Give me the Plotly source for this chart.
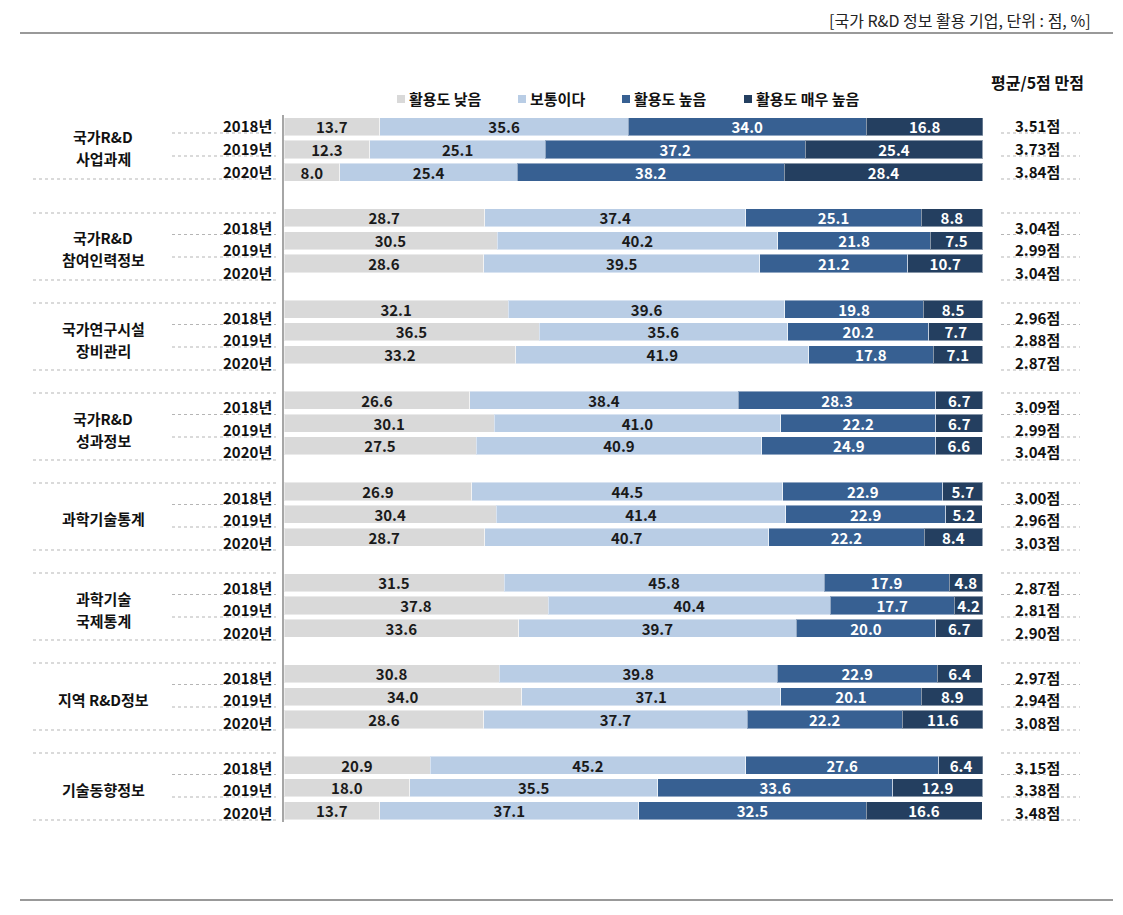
import plotly.graph_objects as go

# ---------------- data ----------------
groups = ["국가R&D<br>사업과제", "국가R&D<br>참여인력정보", "국가연구시설<br>장비관리",
          "국가R&D<br>성과정보", "과학기술통계", "과학기술<br>국제통계",
          "지역 R&D정보", "기술동향정보"]
years = ["2018년", "2019년", "2020년"]
series_names = ["활용도 낮음", "보통이다", "활용도 높음", "활용도 매우 높음"]

low = [13.7, 12.3, 8.0, 28.7, 30.5, 28.6, 32.1, 36.5, 33.2, 26.6, 30.1, 27.5,
       26.9, 30.4, 28.7, 31.5, 37.8, 33.6, 30.8, 34.0, 28.6, 20.9, 18.0, 13.7]
mid = [35.6, 25.1, 25.4, 37.4, 40.2, 39.5, 39.6, 35.6, 41.9, 38.4, 41.0, 40.9,
       44.5, 41.4, 40.7, 45.8, 40.4, 39.7, 39.8, 37.1, 37.7, 45.2, 35.5, 37.1]
high = [34.0, 37.2, 38.2, 25.1, 21.8, 21.2, 19.8, 20.2, 17.8, 28.3, 22.2, 24.9,
        22.9, 22.9, 22.2, 17.9, 17.7, 20.0, 22.9, 20.1, 22.2, 27.6, 33.6, 32.5]
vhigh = [16.8, 25.4, 28.4, 8.8, 7.5, 10.7, 8.5, 7.7, 7.1, 6.7, 6.7, 6.6,
         5.7, 5.2, 8.4, 4.8, 4.2, 6.7, 6.4, 8.9, 11.6, 6.4, 12.9, 16.6]
scores = [3.51, 3.73, 3.84, 3.04, 2.99, 3.04, 2.96, 2.88, 2.87, 3.09, 2.99, 3.04,
          3.00, 2.96, 3.03, 2.87, 2.81, 2.90, 2.97, 2.94, 3.08, 3.15, 3.38, 3.48]

colors = ["#d9d9d9", "#b9cde5", "#376092", "#243f60"]
text_colors = ["#1a1a1a", "#1a1a1a", "#ffffff", "#ffffff"]

# ---------------- layout helpers ----------------
OFF = 8  # page body margin
W, H = 1123 - OFF, 915 - OFF
FONT = "Noto Sans CJK KR"


def X(px):
    return (px - OFF) / W


def Y(py):
    return 1 - (py - OFF) / H


# slot positions: each group uses 4 slots (3 bars + gap)
slots = [4 * g + j for g in range(len(groups)) for j in range(len(years))]

fig = go.Figure()
for name, vals, col, tcol in zip(series_names, [low, mid, high, vhigh], colors, text_colors):
    fig.add_trace(go.Bar(
        y=slots, x=vals, orientation="h", name=name, width=0.79,
        marker=dict(color=col, line=dict(color="rgba(255,255,255,0.45)", width=1)),
        texttemplate="%{x:.1f}", textposition="inside", insidetextanchor="middle",
        textangle=0, textfont=dict(family=FONT, size=15, color=tcol, weight="bold"),
        showlegend=False,
    ))

annotations = []
shapes = []

# header
annotations.append(dict(text="[국가 R&D 정보 활용 기업, 단위 : 점, %]", x=X(1093), y=Y(20),
                        xref="paper", yref="paper", xanchor="right", yanchor="middle",
                        showarrow=False, font=dict(family=FONT, size=16, color="#222")))
shapes.append(dict(type="line", xref="paper", yref="paper", x0=X(20), x1=X(1113),
                   y0=Y(33), y1=Y(33), line=dict(color="#999999", width=2)))
shapes.append(dict(type="line", xref="paper", yref="paper", x0=X(20), x1=X(1113),
                   y0=Y(900), y1=Y(900), line=dict(color="#999999", width=2)))

# right header
annotations.append(dict(text="<b>평균/5점 만점</b>", x=X(1037), y=Y(82),
                        xref="paper", yref="paper", xanchor="center", yanchor="middle",
                        showarrow=False, font=dict(family=FONT, size=16, color="#111")))

# legend (manual)
leg_x = [397, 518, 622, 744]
for name, col, lx in zip(series_names, colors, leg_x):
    shapes.append(dict(type="rect", xref="paper", yref="paper", x0=X(lx), x1=X(lx + 8),
                       y0=Y(103), y1=Y(95), fillcolor=col, line=dict(width=0)))
    annotations.append(dict(text="<b>" + name + "</b>", x=X(lx + 10), y=Y(99),
                            xref="paper", yref="paper", xanchor="left", yanchor="middle",
                            showarrow=False, font=dict(family=FONT, size=15, color="#111")))

# table on the left/right
dot = dict(color="#b5b5b5", width=1, dash="dot")
for g, gname in enumerate(groups):
    if g == 0:
        lines = [133, 156, 179]
        labels_y = [125.5, 148.5, 171]
        name_y = 147
        top = None
    else:
        T = 213 + 90 * (g - 1)
        top = T
        lines = [T + 21.5, T + 44, T + 67]
        labels_y = [T + 14, T + 36.5, T + 59]
        name_y = T + 36
    parts = gname.split("<br>")
    n = len(parts)
    for k, part in enumerate(parts):
        annotations.append(dict(text="<b>" + part + "</b>", x=X(103),
                                y=Y(name_y + (k - (n - 1) / 2) * 22),
                                xref="paper", yref="paper", xanchor="center", yanchor="middle",
                                showarrow=False,
                                font=dict(family=FONT, size=15, color="#111")))
    for j, yr in enumerate(years):
        annotations.append(dict(text="<b>" + yr + "</b>", x=X(274), y=Y(labels_y[j]),
                                xref="paper", yref="paper", xanchor="right", yanchor="middle",
                                showarrow=False, font=dict(family=FONT, size=15, color="#111")))
        annotations.append(dict(text="<b>%.2f점</b>" % scores[3 * g + j], x=X(1037),
                                y=Y(labels_y[j]), xref="paper", yref="paper",
                                xanchor="center", yanchor="middle", showarrow=False,
                                font=dict(family=FONT, size=15, color="#111")))
    full = [lines[2]] + ([top] if top is not None else [])
    for ly in full:
        shapes.append(dict(type="line", xref="paper", yref="paper", x0=X(33), x1=X(276),
                           y0=Y(ly), y1=Y(ly), line=dot))
    for ly in lines[:2]:
        shapes.append(dict(type="line", xref="paper", yref="paper", x0=X(172), x1=X(276),
                           y0=Y(ly), y1=Y(ly), line=dot))
    for ly in lines + ([top] if top is not None else []):
        shapes.append(dict(type="line", xref="paper", yref="paper", x0=X(1001), x1=X(1080),
                           y0=Y(ly), y1=Y(ly), line=dot))

fig.update_layout(
    width=W, height=H, autosize=False,
    margin=dict(l=0, r=0, t=0, b=0),
    paper_bgcolor="white", plot_bgcolor="white",
    barmode="stack",
    uniformtext=dict(minsize=15, mode="show"),
    xaxis=dict(domain=[X(284), X(982.7)], range=[0, 100], visible=False, fixedrange=True),
    yaxis=dict(domain=[Y(822.1), Y(115.3)], range=[30.5, -0.5], showticklabels=False,
               showgrid=False, zeroline=False, showline=True, linecolor="#a6a6a6",
               linewidth=2, ticks="", fixedrange=True),
    annotations=annotations, shapes=shapes,
    font=dict(family=FONT),
)

fig.write_html("out.html")
